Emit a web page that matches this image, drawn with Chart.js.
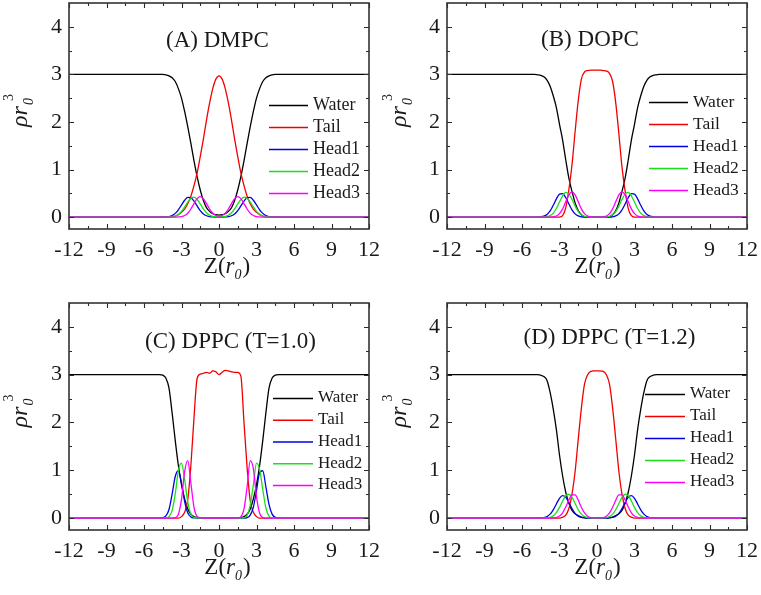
<!DOCTYPE html>
<html><head><meta charset="utf-8">
<script src="https://cdn.jsdelivr.net/npm/chart.js@4.4.1/dist/chart.umd.min.js"></script>
<style>
html,body{margin:0;padding:0;background:#fff;}
#wrap{position:relative;width:761px;height:595px;overflow:hidden;background:#fff;}
.panel{position:absolute;}
</style></head><body>
<div id="wrap">
<div class="panel" style="left:0px;top:0px"><canvas id="cA" width="380" height="295"></canvas></div>
<div class="panel" style="left:380px;top:0px"><canvas id="cB" width="381" height="295"></canvas></div>
<div class="panel" style="left:0px;top:295px"><canvas id="cC" width="380" height="300"></canvas></div>
<div class="panel" style="left:380px;top:295px"><canvas id="cD" width="381" height="300"></canvas></div>
</div>
<script>
// ---- data ----
const zValues = [-12,-6,-5,-4.75,-4.5,
  -4.25,-4,-3.75,-3.5,-3.25,-3,-2.75,-2.5,-2.25,
  -2,-1.75,-1.5,-1.25,-1,-0.75,-0.5,-0.25,
  0,
  0.25,0.5,0.75,1,1.25,1.5,1.75,2,
  2.25,2.5,2.75,3,3.25,3.5,3.75,4,4.25,
  4.5,4.75,5,6,12];

const seriesNames = ['Water','Tail','Head1','Head2','Head3'];
const xTickValues = [-12,-9,-6,-3,0,3,6,9,12];
const xMinorValues = [-10.5,-7.5,-4.5,-1.5,1.5,4.5,7.5,10.5];
const yTickValues = [0,1,2,3,4];
const yMinorValues = [0.5,1.5,2.5,3.5];
const panelTitles = ['(A) DMPC','(B) DOPC','(C) DPPC (T=1.0)','(D) DPPC (T=1.2)'];

// Panel A (DMPC)
const waterA = [3,3,3,3,3,
  2.99,2.97,2.93,2.85,2.7,2.5,2.22,1.9,1.55,
  1.18,0.85,0.57,0.35,0.2,0.12,0.07,0.05,
  0.04,
  0.05,0.07,0.12,0.2,0.35,0.57,0.85,1.18,
  1.55,1.9,2.22,2.5,2.7,2.85,2.93,2.97,2.99,
  3,3,3,3,3];
const tailA = [0,0,0,0,0,
  0,0,0.01,0.02,0.05,0.1,0.17,0.28,0.44,
  0.66,0.93,1.27,1.64,2.04,2.4,2.7,2.9,
  2.97,
  2.9,2.7,2.4,2.04,1.64,1.27,0.93,0.66,
  0.44,0.28,0.17,0.1,0.05,0.02,0.01,0,0,
  0,0,0,0,0];
const head1A = [0,0,0,0,0.001,
  0.004,0.012,0.033,0.078,0.154,0.255,0.354,0.414,0.407,
  0.336,0.234,0.136,0.067,0.028,0.01,0.003,0.001,
  0,
  0.001,0.003,0.01,0.028,0.067,0.136,0.234,0.336,
  0.407,0.414,0.354,0.255,0.154,0.078,0.033,0.012,0.004,
  0.001,0,0,0,0];
const head2A = [0,0,0,0,0,
  0,0.002,0.008,0.023,0.057,0.12,0.213,0.317,0.397,
  0.419,0.371,0.276,0.173,0.091,0.04,0.015,0.005,
  0.003,
  0.005,0.015,0.04,0.091,0.173,0.276,0.371,0.419,
  0.397,0.317,0.213,0.12,0.057,0.023,0.008,0.002,0,
  0,0,0,0,0];
const head3A = [0,0,0,0,0,
  0,0,0,0.001,0.003,0.01,0.033,0.082,0.17,
  0.284,0.388,0.43,0.388,0.284,0.17,0.082,0.036,
  0.021,
  0.036,0.082,0.17,0.284,0.388,0.43,0.388,0.284,
  0.17,0.082,0.033,0.01,0.003,0.001,0,0,0,
  0,0,0,0,0];

// Panel B (DOPC)
const waterB = [3,3,3,2.99,2.98,
  2.95,2.88,2.75,2.55,2.3,1.95,1.62,1.2,0.82,
  0.54,0.3,0.14,0.05,0.01,0,0,0,
  0,
  0,0,0,0.01,0.05,0.14,0.3,0.54,
  0.82,1.2,1.62,1.95,2.3,2.55,2.75,2.88,2.95,
  2.98,2.99,3,3,3];
const tailB = [0,0,0,0,0,
  0,0,0,0,0,0,0.03,0.2,0.58,
  1.1,1.8,2.45,2.9,3.05,3.08,3.09,3.09,
  3.09,
  3.09,3.08,3.07,3.02,2.85,2.4,1.75,1.05,
  0.55,0.18,0.03,0,0,0,0,0,0,
  0,0,0,0,0];
const head1B = [0,0,0,0,0.006,
  0.02,0.056,0.131,0.249,0.384,0.482,0.492,0.409,0.276,
  0.152,0.068,0.025,0.007,0.002,0,0,0,
  0,
  0,0,0,0.002,0.007,0.025,0.068,0.152,
  0.276,0.409,0.492,0.482,0.384,0.249,0.131,0.056,0.02,
  0.006,0,0,0,0];
const head2B = [0,0,0,0,0,
  0.002,0.01,0.032,0.084,0.18,0.316,0.448,0.518,0.487,
  0.372,0.231,0.117,0.048,0.016,0.004,0.001,0,
  0,
  0,0.001,0.004,0.016,0.048,0.117,0.231,0.372,
  0.487,0.518,0.448,0.316,0.18,0.084,0.032,0.01,0.002,
  0,0,0,0,0];
const head3B = [0,0,0,0,0,
  0,0,0.001,0.006,0.023,0.072,0.172,0.322,0.467,
  0.53,0.467,0.322,0.172,0.072,0.023,0.006,0.001,
  0,
  0.001,0.006,0.023,0.072,0.172,0.322,0.467,0.53,
  0.467,0.322,0.172,0.072,0.023,0.006,0.001,0,0,
  0,0,0,0,0];

// Panel C (DPPC, T=1.0)
const waterC = [3,3,3,3,2.99,
  2.93,2.72,2.2,1.62,1.1,0.7,0.4,0.19,0.08,
  0.03,0.01,0,0,0,0,0,0,
  0,
  0,0,0,0,0,0,0.01,0.03,
  0.08,0.19,0.4,0.7,1.1,1.62,2.2,2.72,2.93,
  2.99,3,3,3,3];
const tailC = [0,0,0,0,0,
  0,0,0,0,0,0.03,0.12,0.38,1.1,
  2.1,2.92,3.01,3.03,3.05,3.03,3.08,3.06,
  3.0,
  3.05,3.09,3.08,3.06,3.05,3.05,2.97,2.0,
  1.05,0.36,0.12,0.03,0,0,0,0,0,
  0,0,0,0,0];
const head1C = [0,0,0,0,0.007,
  0.044,0.18,0.5,0.87,0.99,0.73,0.35,0.11,0.022,
  0.003,0,0,0,0,0,0,0,
  0,
  0,0,0,0,0,0,0,0,
  0.01,0.061,0.23,0.575,0.95,0.99,0.655,0.288,0.082,
  0.015,0.002,0,0,0];
const head2C = [0,0,0,0,0,
  0.003,0.029,0.157,0.51,0.99,1.15,0.81,0.34,0.085,
  0.013,0.001,0,0,0,0,0,0,
  0,
  0,0,0,0,0,0,0,0.008,
  0.06,0.27,0.7,1.15,1.02,0.6,0.21,0.042,0.005,
  0,0,0,0,0];
const head3C = [0,0,0,0,0,
  0,0,0,0.008,0.08,0.39,0.97,1.2,0.73,
  0.225,0.034,0.003,0,0,0,0,0,
  0,
  0,0,0,0,0,0.002,0.026,0.19,
  0.66,1.2,1.03,0.45,0.1,0.011,0,0,0,
  0,0,0,0,0];

// Panel D (DPPC, T=1.2)
const waterD = [3,3,3,3,2.99,
  2.96,2.88,2.63,2.28,1.85,1.32,0.88,0.54,0.31,
  0.16,0.09,0.05,0.02,0.01,0,0,0,
  0,
  0,0,0,0.01,0.02,0.05,0.09,0.16,
  0.31,0.54,0.88,1.32,1.85,2.28,2.63,2.88,2.96,
  2.99,3,3,3,3];
const tailD = [0,0,0,0,0,
  0,0,0,0,0,0,0.02,0.06,0.2,
  0.5,0.98,1.65,2.3,2.8,3.0,3.07,3.08,
  3.08,
  3.08,3.07,3.0,2.8,2.3,1.65,0.98,0.5,
  0.2,0.06,0.02,0,0,0,0,0,0,
  0,0,0,0,0];
const head1D = [0,0,0,0,0.002,
  0.01,0.031,0.081,0.172,0.295,0.413,0.469,0.434,0.326,
  0.2,0.099,0.04,0.013,0.004,0.001,0,0,
  0,
  0,0,0.001,0.004,0.013,0.04,0.099,0.2,
  0.326,0.434,0.469,0.413,0.295,0.172,0.081,0.031,0.01,
  0.002,0,0,0,0];
const head2D = [0,0,0,0,0,
  0.001,0.004,0.016,0.046,0.113,0.223,0.358,0.468,0.498,
  0.431,0.304,0.174,0.081,0.031,0.009,0.002,0,
  0,
  0,0.002,0.009,0.031,0.081,0.174,0.304,0.431,
  0.498,0.468,0.358,0.223,0.113,0.046,0.016,0.004,0.001,
  0,0,0,0,0];
const head3D = [0,0,0,0,0,
  0,0,0,0.003,0.012,0.041,0.11,0.232,0.38,
  0.486,0.483,0.374,0.226,0.106,0.039,0.011,0.002,
  0.002,
  0.002,0.011,0.039,0.106,0.226,0.374,0.483,0.486,
  0.38,0.232,0.11,0.041,0.012,0.003,0,0,0,
  0,0,0,0,0];

// ---- styling / layout ----
const seriesColors = ['#000000','#f20000','#0000e6','#19e019','#ff00ff'];
const FONT = '"Liberation Serif", "Times New Roman", serif';
const TEXT = '#1a1a1a';

const panels = [
  {id:'cA', title:panelTitles[0], series:[waterA,tailA,head1A,head2A,head3A],
   w:380,h:295, area:{l:69,r:369,t:3,b:229}, titleDx:-1.5, titleDy:38,
   leg:{x0:100,x1:61,tx:56,y0:102,dy:22,fs:18}, xtDx:8, ytX:27, ytDy:-6},
  {id:'cB', title:panelTitles[1], series:[waterB,tailB,head1B,head2B,head3B],
   w:381,h:295, area:{l:67,r:367,t:3,b:229}, titleDx:-7, titleDy:37,
   leg:{x0:98,x1:59,tx:54,y0:99,dy:22,fs:17.5}, xtDx:0.5, ytX:26, ytDy:-6},
  {id:'cC', title:panelTitles[2], series:[waterC,tailC,head1C,head2C,head3C],
   w:380,h:300, area:{l:69,r:369,t:8,b:235}, titleDx:11.5, titleDy:38.7,
   leg:{x0:96,x1:56,tx:51,y0:95,dy:21.75,fs:17}, xtDx:8.5, ytX:27, ytDy:-6},
  {id:'cD', title:panelTitles[3], series:[waterD,tailD,head1D,head2D,head3D],
   w:381,h:300, area:{l:67,r:367,t:8,b:235}, titleDx:12.5, titleDy:35,
   leg:{x0:102,x1:62,tx:57,y0:91,dy:22,fs:17}, xtDx:0.5, ytX:26, ytDy:-6}
];
const panelById = {};
panels.forEach(p => { panelById[p.id] = p; });

const deco = {
  id: 'deco',
  afterDatasetsDraw(chart) {
    const p = panelById[chart.canvas.id];
    if (!p) return;
    const ctx = chart.ctx, a = chart.chartArea;
    const xs = chart.scales.x, ys = chart.scales.y;
    ctx.save();
    // inward ticks on all four sides
    ctx.strokeStyle = '#2a2a2a';
    ctx.lineWidth = 1.1;
    ctx.beginPath();
    const xt = (v, len) => {
      const px = Math.round(xs.getPixelForValue(v)) + 0.5;
      ctx.moveTo(px, a.bottom); ctx.lineTo(px, a.bottom - len);
      ctx.moveTo(px, a.top); ctx.lineTo(px, a.top + len);
    };
    const yt = (v, len) => {
      const py = Math.round(ys.getPixelForValue(v)) + 0.5;
      ctx.moveTo(a.left, py); ctx.lineTo(a.left + len, py);
      ctx.moveTo(a.right, py); ctx.lineTo(a.right - len, py);
    };
    xTickValues.forEach(v => xt(v, 5));
    xMinorValues.forEach(v => xt(v, 3));
    yTickValues.forEach(v => yt(v, 5));
    yMinorValues.forEach(v => yt(v, 3));
    ctx.stroke();
    // frame
    ctx.lineWidth = 1.6;
    ctx.strokeStyle = '#333';
    ctx.strokeRect(a.left, a.top, a.right - a.left, a.bottom - a.top);

    ctx.fillStyle = TEXT;
    // panel title
    ctx.font = '23px ' + FONT;
    ctx.textAlign = 'center';
    ctx.textBaseline = 'middle';
    ctx.fillText(p.title, (a.left + a.right) / 2 + p.titleDx, a.top + p.titleDy);

    // legend
    ctx.font = p.leg.fs + 'px ' + FONT;
    ctx.textAlign = 'left';
    chart.data.datasets.forEach((ds, i) => {
      const y = a.top + p.leg.y0 + i * p.leg.dy;
      ctx.strokeStyle = ds.borderColor;
      ctx.lineWidth = 1.5;
      ctx.beginPath();
      ctx.moveTo(a.right - p.leg.x0, y + 0.5);
      ctx.lineTo(a.right - p.leg.x1, y + 0.5);
      ctx.stroke();
      ctx.fillStyle = TEXT;
      ctx.fillText(ds.label, a.right - p.leg.tx, y);
    });

    // x axis title  Z(r0)
    ctx.textBaseline = 'alphabetic';
    ctx.textAlign = 'left';
    const big = '23px ' + FONT, bigI = 'italic 23px ' + FONT, smI = 'italic 14px ' + FONT, sm = '14px ' + FONT;
    const parts = [['Z(', big, 0], ['r', bigI, 0], ['0', smI, 6], [')', big, 0]];
    let tw = 0;
    parts.forEach(q => { ctx.font = q[1]; q.push(ctx.measureText(q[0]).width); tw += q[3]; });
    tw += 1;
    let x = (a.left + a.right) / 2 + p.xtDx - tw / 2;
    const by = a.bottom + 44;
    parts.forEach((q, k) => {
      ctx.font = q[1];
      ctx.fillText(q[0], x, by + q[2]);
      x += q[3] + (k === 2 ? 1 : 0);
    });

    // y axis title  rho r0^3 (rotated)
    ctx.save();
    ctx.translate(p.ytX, (a.top + a.bottom) / 2 + p.ytDy);
    ctx.rotate(-Math.PI / 2);
    ctx.font = 'italic 24px ' + FONT;
    const w1 = ctx.measureText('\u03C1r').width;
    ctx.font = smI;
    const w0 = ctx.measureText('0').width;
    const total = w1 + w0 + 6;
    const x0 = -total / 2;
    ctx.font = 'italic 24px ' + FONT;
    ctx.fillText('\u03C1r', x0, 0);
    ctx.font = smI;
    ctx.fillText('0', x0 + w1 + 1, 6);
    ctx.font = sm;
    ctx.fillText('3', x0 + w1 + 5, -14);
    ctx.restore();

    ctx.restore();
  }
};

panels.forEach(p => {
  p.series.forEach((s, i) => { if (s.length !== zValues.length) console.warn(p.id, i, s.length); });
  const datasets = p.series.map((s, i) => ({
    label: seriesNames[i],
    data: zValues.map((z, k) => ({x: z, y: s[k]})),
    borderColor: seriesColors[i],
    backgroundColor: seriesColors[i],
    borderWidth: 1.3,
    pointRadius: 0,
    cubicInterpolationMode: 'monotone',
    fill: false,
    order: 5 - i
  }));
  const cv = document.getElementById(p.id);
  new Chart(cv, {
    type: 'line',
    data: {datasets},
    plugins: [deco],
    options: {
      responsive: false,
      animation: false,
      devicePixelRatio: 1,
      layout: {padding: {left: 0, right: p.w - p.area.r, top: p.area.t, bottom: 0}},
      plugins: {legend: {display: false}, tooltip: {enabled: false}, title: {display: false}},
      scales: {
        x: {
          type: 'linear', min: -12, max: 12,
          grid: {display: false, drawTicks: false},
          border: {display: false},
          afterBuildTicks: sc => { sc.ticks = xTickValues.map(v => ({value: v})); },
          afterFit: sc => { sc.height = p.h - p.area.b; sc.paddingLeft = 0; sc.paddingRight = 0; },
          ticks: {font: {family: FONT, size: 22}, color: TEXT, padding: 8, maxRotation: 0, autoSkip: false,
                  callback: v => String(v)}
        },
        y: {
          type: 'linear', min: -0.25, max: 4.5,
          grid: {display: false, drawTicks: false},
          border: {display: false},
          afterBuildTicks: sc => { sc.ticks = yTickValues.map(v => ({value: v})); },
          afterFit: sc => { sc.width = p.area.l; sc.paddingTop = 0; sc.paddingBottom = 0; },
          ticks: {font: {family: FONT, size: 22}, color: TEXT, padding: 7, autoSkip: false,
                  callback: v => String(v)}
        }
      }
    }
  });
});
</script>
</body></html>
